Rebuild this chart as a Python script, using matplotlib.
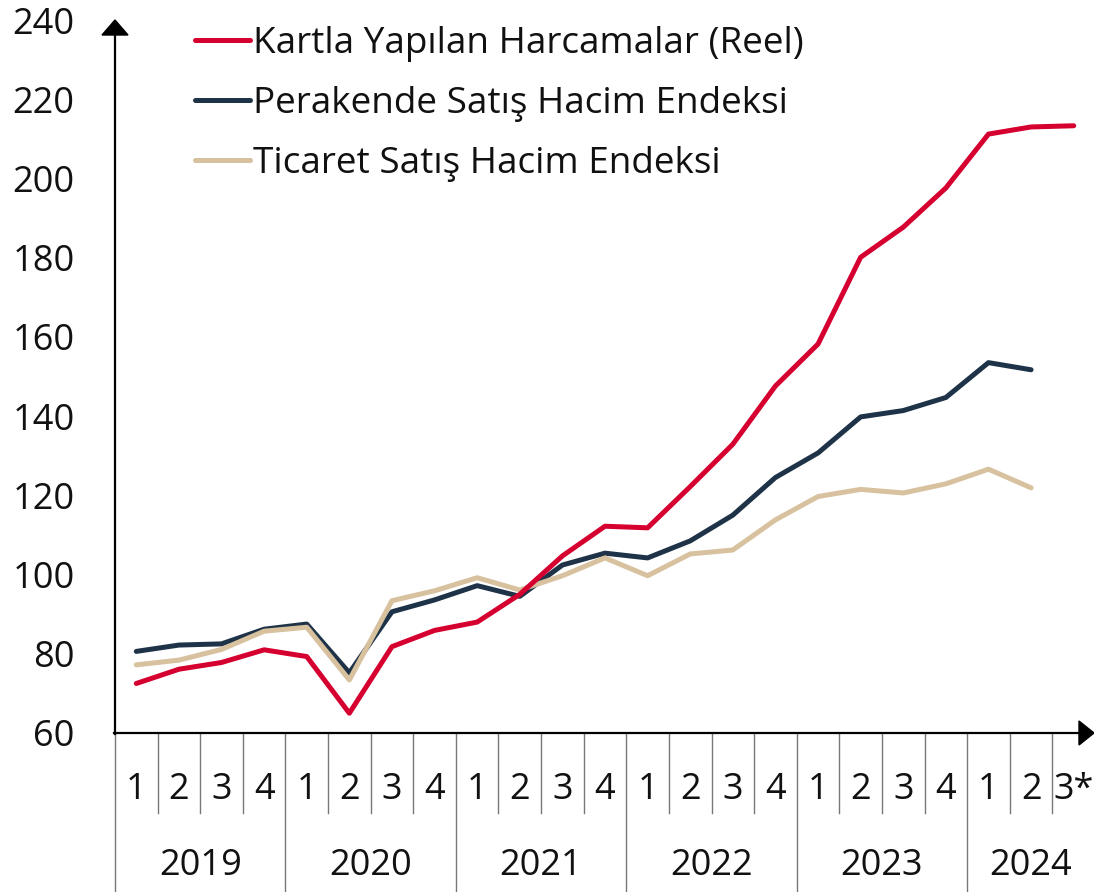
import matplotlib
matplotlib.use("Agg")
import matplotlib.pyplot as plt
from matplotlib.lines import Line2D
from matplotlib.patches import Polygon

plt.rcParams['font.family'] = ['Open Sans', 'DejaVu Sans']

# ---- data ----
years = ["2019", "2020", "2021", "2022", "2023", "2024"]
quarter_labels = ["1", "2", "3", "4"] * 5 + ["1", "2", "3*"]
series_names = ["Kartla Yapılan Harcamalar (Reel)",
                "Perakende Satış Hacim Endeksi",
                "Ticaret Satış Hacim Endeksi"]
kart = [72.5, 76.1, 77.8, 81.0, 79.3, 65.0, 81.8, 85.9, 88.0, 95.0, 104.7, 112.2,
        111.8, 122.2, 132.9, 147.6, 158.2, 180.1, 187.7, 197.6, 211.2, 213.0, 213.3]
perakende = [80.6, 82.2, 82.5, 86.2, 87.5, 75.2, 90.6, 93.6, 97.2, 94.5, 102.4, 105.4,
             104.2, 108.5, 115.0, 124.5, 130.7, 139.8, 141.4, 144.7, 153.5, 151.7]
ticaret = [77.2, 78.4, 81.1, 85.7, 86.7, 73.4, 93.4, 95.9, 99.2, 96.1, 99.7, 104.2,
           99.7, 105.2, 106.2, 113.8, 119.7, 121.5, 120.6, 122.9, 126.6, 121.9]
yticks = [60, 80, 100, 120, 140, 160, 180, 200, 220, 240]

colors = {"kart": "#D5002F", "perakende": "#1E3348", "ticaret": "#D7C19E"}

W, H = 1094, 892
fig = plt.figure(figsize=(W / 100, H / 100), dpi=100)
ax_l, ax_r, ax_t, ax_b = 115, 1095, 20, 733
ax = fig.add_axes([ax_l / W, (H - ax_b) / H, (ax_r - ax_l) / W, (ax_b - ax_t) / H])

lw = 3.6
x_k = list(range(len(kart)))
x_p = list(range(len(perakende)))
x_t = list(range(len(ticaret)))
l_p, = ax.plot(x_p, perakende, color=colors["perakende"], lw=lw, solid_capstyle='round', zorder=3)
l_t, = ax.plot(x_t, ticaret, color=colors["ticaret"], lw=lw, solid_capstyle='round', zorder=4)
l_k, = ax.plot(x_k, kart, color=colors["kart"], lw=lw, solid_capstyle='round', zorder=5)

n = len(quarter_labels)
ax.set_xlim(-0.5, n - 0.5)
ax.set_ylim(60, 240)
for s in ax.spines.values():
    s.set_visible(False)
ax.set_xticks([])
ax.set_yticks(yticks)
ax.tick_params(axis='y', length=0, pad=29, labelsize=26)
for lab in ax.get_yticklabels():
    lab.set_color("#111111")

# axis lines with arrows (figure pixel coordinates -> fraction)
def fx(px):
    return px / W

def fy(py):
    return (H - py) / H

fig.add_artist(Line2D([fx(ax_l), fx(ax_l)], [fy(ax_b + 1), fy(34)], color="black", lw=1.6,
                      transform=fig.transFigure))
fig.add_artist(Polygon([[fx(ax_l - 13), fy(35)], [fx(ax_l + 13), fy(35)], [fx(ax_l), fy(20)]],
                       closed=True, color="black", transform=fig.transFigure))
fig.add_artist(Line2D([fx(ax_l - 1), fx(1081)], [fy(ax_b), fy(ax_b)], color="black", lw=1.6,
                      transform=fig.transFigure))
fig.add_artist(Polygon([[fx(1079), fy(ax_b - 12)], [fx(1079), fy(ax_b + 12)], [fx(1094), fy(ax_b)]],
                       closed=True, color="black", transform=fig.transFigure))

# category axis: quarter labels, year labels, dividers
trans = ax.get_xaxis_transform()
hpx = ax_b - ax_t
q_y = -(790 - ax_b) / hpx
y_y = -(866 - ax_b) / hpx
q_div = -(813 - ax_b) / hpx
y_div = -(H - ax_b) / hpx
for i, q in enumerate(quarter_labels):
    ax.text(i, q_y, q, transform=trans, ha='center', va='center', fontsize=26,
            color="#111111", clip_on=False)
for i in range(n - 1):
    xb = i + 0.5
    is_year = (i + 1) % 4 == 0
    ax.plot([xb, xb], [0, y_div if is_year else q_div], transform=trans, color="#777777",
            lw=1.0, clip_on=False)
ax.plot([-0.5, -0.5], [0, y_div], transform=trans, color="#777777", lw=1.0, clip_on=False)
for j, yr in enumerate(years):
    start = j * 4
    end = min(start + 4, n)
    ax.text((start + end - 1) / 2, y_y, yr, transform=trans, ha='center', va='center',
            fontsize=26, color="#111111", clip_on=False)

leg = ax.legend([l_k, l_p, l_t], series_names, loc='upper left',
                bbox_to_anchor=((192 - ax_l) / (ax_r - ax_l) - 0.012, 1.013), frameon=False,
                fontsize=26.6, handlelength=1.5, handletextpad=0.08, labelspacing=0.66,
                borderaxespad=0.0)
for t in leg.get_texts():
    t.set_color("#111111")

fig.savefig("out.png", dpi=100)
